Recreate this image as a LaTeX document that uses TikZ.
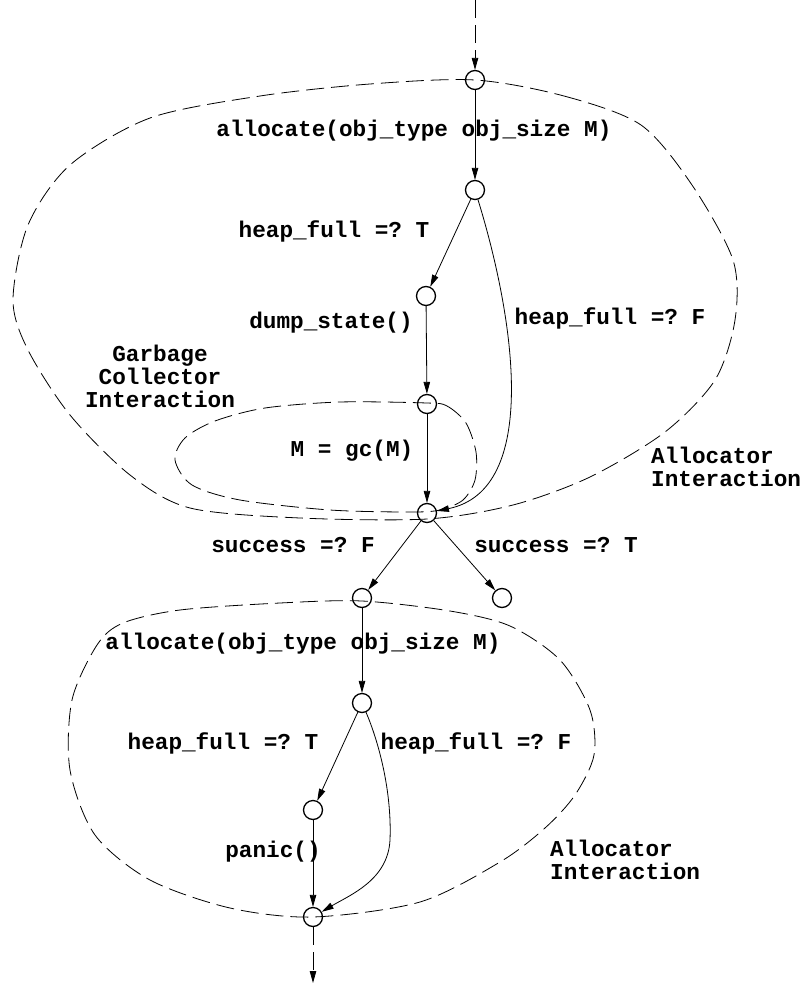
\documentclass[tikz,border=0pt]{standalone}
\usepackage{fontspec}
\setmonofont{Liberation Mono}
\usetikzlibrary{arrows.meta}
\begin{document}
\begin{tikzpicture}[x=1pt,y=-1pt,
  state/.style={circle,draw,line width=1.3pt,minimum size=19pt,inner sep=0pt},
  flow/.style={line width=0.8pt,-{Triangle[length=12pt,width=6.5pt]}},
  region/.style={line width=0.8pt,dash pattern=on 18pt off 7pt},
  txt/.style={font=\fontsize{22.7}{23}\selectfont\ttfamily\bfseries,inner sep=0pt},
  lbl/.style={txt,text height=0.75em,text depth=0.25em},
]
\useasboundingbox (0,0) rectangle (802,985);

% states
\node[state] (n1) at (475,80) {};
\node[state] (n2) at (475,190) {};
\node[state] (n3) at (426,296) {};
\node[state] (n4) at (427,404) {};
\node[state] (n5) at (427,513) {};
\node[state] (n6) at (362,598) {};
\node[state] (n7) at (502,598) {};
\node[state] (n8) at (362,703) {};
\node[state] (n9) at (313,810) {};
\node[state] (n10) at (313,917) {};
\coordinate (entry) at (475,0);
\coordinate (exit) at (313,983);

% interaction regions
\draw[region] plot[smooth cycle] coordinates {
  (475,80) (564,96) (641,125) (692,185) (733,260) (735,320) (715,380)
  (665,432) (590,477) (513,505) (427,519) (300,518) (190,508) (130,475)
  (70,415) (28,350) (13,300) (28,225) (70,165) (150,118) (260,96) (370,84)};
\draw[region] plot[smooth cycle] coordinates {
  (427,403) (447,406) (466,423) (476,452) (475,480) (463,500) (440,510)
  (410,512) (330,510) (240,500) (192,485) (175,460) (185,438) (215,421)
  (265,408) (340,402)};
\draw[region] plot[smooth cycle] coordinates {
  (362,601) (450,611) (510,626) (560,660) (590,710) (594,755) (575,795)
  (545,828) (500,862) (420,902) (313,917) (230,908) (150,880) (95,835)
  (70,770) (72,700) (97,645) (123,623) (180,610) (280,603)};

% transitions
\draw[flow,dash pattern=on 18pt off 7pt] (entry) -- (n1);
\draw[flow] (n1) -- (n2);
\draw[flow] (n2) -- (n3);
\draw[flow] (n2) .. controls (515,320) and (540,490) .. (n5);
\draw[flow] (n3) -- (n4);
\draw[flow] (n4) -- (n5);
\draw[flow] (n5) -- (n6);
\draw[flow] (n5) -- (n7);
\draw[flow] (n6) -- (n8);
\draw[flow] (n8) -- (n9);
\draw[flow] (n8) .. controls (378,740) and (392,790) .. (390,840)
                 .. controls (388,880) and (350,895) .. (n10);
\draw[flow] (n9) -- (n10);
\draw[flow,dash pattern=on 18pt off 7pt] (n10) -- (exit);

% labels
\node[lbl] (l1) at (414,134) {allocate(obj\_type obj\_size M)};
\node[lbl] (l2) at (334,235) {heap\_full =? T};
\node[lbl] (l3) at (331,326) {dump\_state()};
\node[lbl] (l4) at (610,322) {heap\_full =? F};
\node[txt,align=center] (l5) at (160,376) {Garbage\\Collector\\Interaction};
\node[lbl] (l6) at (352,454) {M = gc(M)};
\node[txt,align=left,anchor=west] (l7) at (651,467) {Allocator\\Interaction};
\node[lbl] (l8) at (293,550) {success =? F};
\node[lbl] (l9) at (556,550) {success =? T};
\node[lbl] (l10) at (303,647) {allocate(obj\_type obj\_size M)};
\node[lbl] (l11) at (223,747) {heap\_full =? T};
\node[lbl] (l12) at (476,747) {heap\_full =? F};
\node[lbl] (l13) at (273,855) {panic()};
\node[txt,align=left,anchor=west] (l14) at (550,860) {Allocator\\Interaction};
\end{tikzpicture}
\end{document}
